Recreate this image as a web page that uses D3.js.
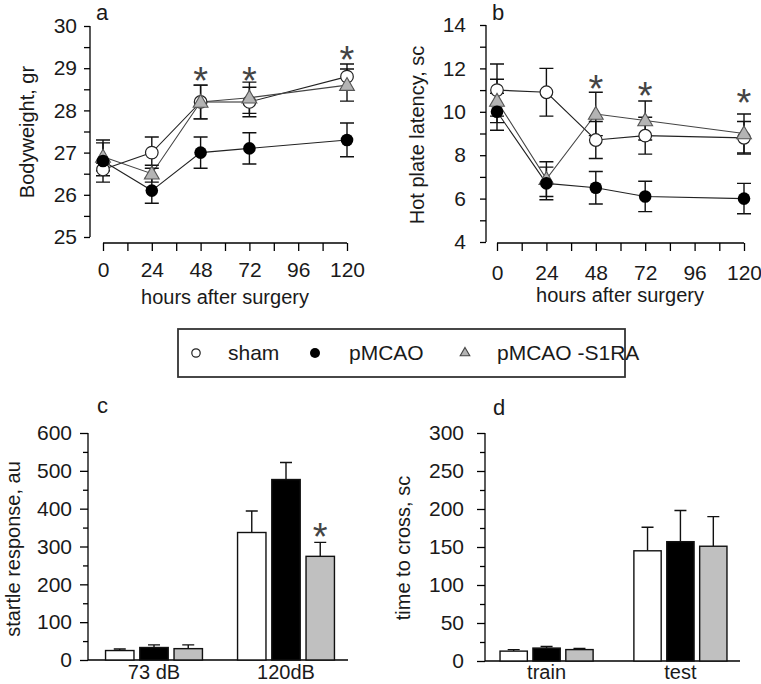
<!DOCTYPE html>
<html><head><meta charset="utf-8">
<script src="https://cdn.jsdelivr.net/npm/d3@7"></script>
<style>
html,body{margin:0;padding:0;background:#fff;}
svg{display:block;font-family:"Liberation Sans",Arial,sans-serif;}
</style></head>
<body>
<svg id="c" width="761" height="684"></svg>
<script>
// ---------- DATA ----------
const seriesNames = ["sham", "pMCAO", "pMCAO -S1RA"];
const hours = [0, 24, 48, 72, 120];
const hourTicks = [0, 24, 48, 72, 96, 120];

const bwSham = [26.6, 27.0, 28.2, 28.2, 28.8];
const bwShamErr = [0.15, 0.37, 0.4, 0.35, 0.3];
const bwPM = [26.8, 26.1, 27.0, 27.1, 27.3];
const bwPMErr = [0.5, 0.3, 0.37, 0.37, 0.4];
const bwS1 = [26.9, 26.5, 28.2, 28.3, 28.6];
const bwS1Err = [0.33, 0.2, 0.4, 0.37, 0.38];
const bwStarHours = [48, 72, 120];
const bwStarVals = [28.9, 28.9, 29.4];

const hpSham = [11.0, 10.9, 8.7, 8.9, 8.8];
const hpShamErr = [1.2, 1.1, 0.85, 0.85, 0.75];
const hpPM = [10.0, 6.7, 6.5, 6.1, 6.0];
const hpPMErr = [0.85, 0.75, 0.75, 0.7, 0.7];
const hpS1 = [10.5, 6.9, 9.9, 9.6, 9.0];
const hpS1Err = [1.0, 0.8, 1.0, 0.9, 0.9];
const hpStarHours = [48, 72, 120];
const hpStarVals = [11.45, 11.15, 10.8];

const startleCats = ["73 dB", "120dB"];
const startleSham = [25, 337], startleShamErr = [4, 57];
const startlePM = [33, 477], startlePMErr = [7, 45];
const startleS1 = [30, 274], startleS1Err = [10, 37];
const startleStarCat = "120dB", startleStarVal = 349;

const crossCats = ["train", "test"];
const crossSham = [13, 145], crossShamErr = [2, 31];
const crossPM = [17, 157], crossPMErr = [2, 41];
const crossS1 = [15, 151], crossS1Err = [1.5, 39];

// ---------- STYLE ----------
const TXT = "#1a1a1a";
const GRAY = "#c0c0c0";
const svg = d3.select("#c");

function star(g, x, y) {
  g.append("text").attr("x", x).attr("y", y + 22).attr("text-anchor", "middle")
    .attr("font-size", 38).attr("fill", "#444").text("*");
}
function yTitle(x, y, t) {
  svg.append("text").attr("transform", `translate(${x},${y}) rotate(-90)`)
    .attr("text-anchor", "middle").attr("dy", "0.35em").attr("font-size", 20)
    .attr("fill", TXT).text(t);
}
function letter(x, y, t) {
  svg.append("text").attr("x", x).attr("y", y).attr("font-size", 22).attr("fill", TXT).text(t);
}
function styleAxis(g, fs) {
  g.select(".domain").attr("stroke", "#000").attr("stroke-width", 1.3);
  g.selectAll(".tick line").attr("stroke", "#000").attr("stroke-width", 1.3);
  g.selectAll(".tick text").attr("font-size", fs).attr("fill", TXT).attr("font-family", null);
}

// ---------- LINE PANELS ----------
function linePanel(opt) {
  const x = d3.scaleLinear().domain([0, 120]).range(opt.xr);
  const y = d3.scaleLinear().domain(opt.yd).range(opt.yr);
  const g = svg.append("g");
  const ya = g.append("g").attr("transform", `translate(${opt.yx},0)`)
    .call(d3.axisLeft(y).tickValues(opt.yMajor).tickSize(6).tickPadding(opt.ypad).tickFormat(d3.format("d")));
  styleAxis(ya, 21);
  ya.select(".domain").attr("d", `M0,${opt.yr[0]}V${opt.yr[1]}`);
  const ym = g.append("g").attr("transform", `translate(${opt.yx},0)`)
    .call(d3.axisLeft(y).tickValues(opt.yMinor).tickSize(6).tickFormat(""));
  ym.select(".domain").remove();
  ym.selectAll(".tick line").attr("stroke", "#000").attr("stroke-width", 1.3);
  const xa = g.append("g").attr("transform", `translate(0,${opt.xy})`)
    .call(d3.axisBottom(x).tickValues(d3.range(0, 121, 12)).tickSize(8).tickSizeOuter(0)
      .tickFormat(d => hourTicks.includes(d) ? d : ""));
  styleAxis(xa, 21);
  xa.select(".domain").attr("d", `M${opt.xr[0]},0H${opt.xr[1]}`);
  xa.selectAll(".tick text").attr("y", opt.xlabY - opt.xy).attr("dy", "0.35em");
  g.append("text").attr("x", opt.titleX).attr("y", opt.titleY).attr("dy", "0.35em")
    .attr("text-anchor", "middle").attr("font-size", 20).attr("fill", TXT).text("hours after surgery");

  const series = [
    {v: opt.sham, e: opt.shamErr, type: "open"},
    {v: opt.s1, e: opt.s1Err, type: "tri"},
    {v: opt.pm, e: opt.pmErr, type: "fill"}
  ];
  const line = d3.line().x((d, i) => x(hours[i])).y(d => y(d));
  series.forEach(s => {
    g.append("path").attr("d", line(s.v)).attr("fill", "none")
      .attr("stroke", s.type === "tri" ? "#444" : "#222").attr("stroke-width", 1.1);
  });
  series.forEach(s => {
    s.v.forEach((v, i) => {
      const cx = x(hours[i]), t = y(v + s.e[i]), b = y(v - s.e[i]);
      g.append("path").attr("d", `M${cx},${t}V${b}M${cx - 7},${t}H${cx + 7}M${cx - 7},${b}H${cx + 7}`)
        .attr("stroke", "#111").attr("stroke-width", 1.4).attr("fill", "none");
    });
  });
  series.forEach(s => {
    s.v.forEach((v, i) => {
      const cx = x(hours[i]), cy = y(v);
      if (s.type === "open") g.append("circle").attr("cx", cx).attr("cy", cy).attr("r", 6.3)
        .attr("fill", "#fff").attr("stroke", "#222").attr("stroke-width", 1.2);
      else if (s.type === "fill") g.append("circle").attr("cx", cx).attr("cy", cy).attr("r", 6.3)
        .attr("fill", "#000");
      else g.append("path").attr("transform", `translate(${cx},${cy + 1})`)
        .attr("d", d3.symbol(d3.symbolTriangle, 95)()).attr("fill", "#b4b4b4")
        .attr("stroke", "#555").attr("stroke-width", 1.1);
    });
  });
  opt.starH.forEach((h, i) => star(g, x(h), y(opt.starV[i])));
}

linePanel({
  xr: [103, 347], yd: [25, 30], yr: [237, 26], yx: 90, xy: 243, ypad: 7,
  yMajor: [25, 26, 27, 28, 29, 30], yMinor: [25.5, 26.5, 27.5, 28.5, 29.5],
  xlabY: 270, titleX: 225, titleY: 297,
  sham: bwSham, shamErr: bwShamErr, pm: bwPM, pmErr: bwPMErr, s1: bwS1, s1Err: bwS1Err,
  starH: bwStarHours, starV: bwStarVals
});
linePanel({
  xr: [497, 744], yd: [4, 14], yr: [242, 25], yx: 486, xy: 243, ypad: 14,
  yMajor: [4, 6, 8, 10, 12, 14], yMinor: [5, 7, 9, 11, 13],
  xlabY: 273, titleX: 620, titleY: 295,
  sham: hpSham, shamErr: hpShamErr, pm: hpPM, pmErr: hpPMErr, s1: hpS1, s1Err: hpS1Err,
  starH: hpStarHours, starV: hpStarVals
});
yTitle(27, 132, "Bodyweight, gr");
yTitle(417, 135, "Hot plate latency, sc");
letter(96, 20, "a");
letter(492, 20, "b");

// ---------- LEGEND ----------
const lg = svg.append("g");
lg.append("rect").attr("x", 178).attr("y", 329).attr("width", 447).attr("height", 48)
  .attr("fill", "none").attr("stroke", "#333").attr("stroke-width", 1.8);
const legY = 353;
lg.append("circle").attr("cx", 196).attr("cy", legY).attr("r", 4.2).attr("fill", "#fff")
  .attr("stroke", "#222").attr("stroke-width", 1.2);
lg.append("circle").attr("cx", 315).attr("cy", legY).attr("r", 5).attr("fill", "#000");
lg.append("path").attr("transform", `translate(465,${legY})`)
  .attr("d", d3.symbol(d3.symbolTriangle, 40)()).attr("fill", "#b4b4b4").attr("stroke", "#444").attr("stroke-width", 1.1);
[[228, seriesNames[0]], [349, seriesNames[1]], [497, seriesNames[2]]].forEach(([x, t]) => {
  lg.append("text").attr("x", x).attr("y", legY).attr("dy", "0.35em").attr("font-size", 21)
    .attr("fill", TXT).text(t);
});

// ---------- BAR PANELS ----------
function barPanel(opt) {
  const y = d3.scaleLinear().domain(opt.yd).range(opt.yr);
  const x0 = d3.scaleBand().domain(opt.cats).range(opt.xr).paddingInner(opt.pi).paddingOuter(opt.po);
  const x1 = d3.scaleBand().domain(seriesNames).range([0, x0.bandwidth()]).paddingInner(0.17).paddingOuter(0.05);
  const g = svg.append("g");
  const ya = g.append("g").attr("transform", `translate(${opt.xr[0]},0)`)
    .call(d3.axisLeft(y).tickValues(opt.yMajor).tickSize(8).tickPadding(opt.ypad));
  styleAxis(ya, 21);
  ya.select(".domain").attr("d", `M0,${opt.yr[0]}V${opt.yr[1]}`);
  const ym = g.append("g").attr("transform", `translate(${opt.xr[0]},0)`)
    .call(d3.axisLeft(y).tickValues(opt.yMinor).tickSize(5).tickFormat(""));
  ym.select(".domain").remove();
  ym.selectAll(".tick line").attr("stroke", "#000").attr("stroke-width", 1.3);
  g.append("line").attr("x1", opt.xr[0]).attr("x2", opt.xEnd).attr("y1", y(0)).attr("y2", y(0))
    .attr("stroke", "#000").attr("stroke-width", 1.3);
  const fills = ["#fff", "#000", GRAY];
  const sets = [[opt.sham, opt.shamErr], [opt.pm, opt.pmErr], [opt.s1, opt.s1Err]];
  opt.cats.forEach((c, ci) => {
    sets.forEach(([vals, errs], si) => {
      const bx = x0(c) + x1(seriesNames[si]), bw = x1.bandwidth();
      const cx = bx + bw / 2;
      g.append("path").attr("d", `M${cx},${y(vals[ci])}V${y(vals[ci] + errs[ci])}M${cx - 6},${y(vals[ci] + errs[ci])}H${cx + 6}`)
        .attr("stroke", "#111").attr("stroke-width", 1.4).attr("fill", "none");
      g.append("rect").attr("x", bx).attr("y", y(vals[ci])).attr("width", bw)
        .attr("height", y(0) - y(vals[ci])).attr("fill", fills[si]).attr("stroke", "#111").attr("stroke-width", 1.4);
    });
    g.append("text").attr("x", x0(c) + x0.bandwidth() / 2).attr("y", opt.catY).attr("dy", "0.35em")
      .attr("text-anchor", "middle").attr("font-size", 20).attr("fill", TXT).text(c);
  });
  if (opt.starCat) {
    const bx = x0(opt.starCat) + x1(seriesNames[2]) + x1.bandwidth() / 2;
    star(g, bx, y(opt.starVal));
  }
}

barPanel({
  yd: [0, 600], yr: [660, 433], xr: [88, 352], xEnd: 348, pi: 0.24, po: 0.12, ypad: 8,
  yMajor: d3.range(0, 601, 100), yMinor: d3.range(50, 600, 100), cats: startleCats, catY: 672,
  sham: startleSham, shamErr: startleShamErr, pm: startlePM, pmErr: startlePMErr, s1: startleS1, s1Err: startleS1Err,
  starCat: startleStarCat, starVal: startleStarVal
});
barPanel({
  yd: [0, 300], yr: [661, 433], xr: [485, 742], xEnd: 740, pi: 0.28, po: 0.1, ypad: 13,
  yMajor: d3.range(0, 301, 50), yMinor: d3.range(25, 300, 50), cats: crossCats, catY: 672,
  sham: crossSham, shamErr: crossShamErr, pm: crossPM, pmErr: crossPMErr, s1: crossS1, s1Err: crossS1Err
});
yTitle(13, 549, "startle response, au");
yTitle(403, 548, "time to cross, sc");
letter(97, 413, "c");
letter(493, 415, "d");
</script>
</body></html>
